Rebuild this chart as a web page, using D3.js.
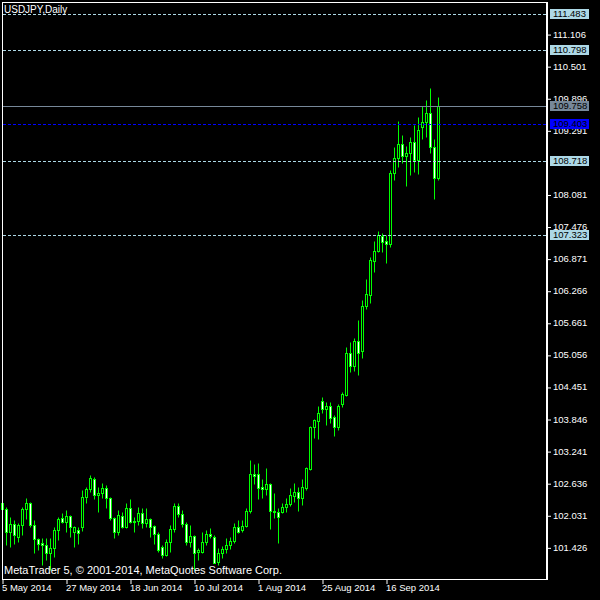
<!DOCTYPE html>
<html><head><meta charset="utf-8">
<script src="https://cdn.jsdelivr.net/npm/d3@7"></script>
<style>html,body{margin:0;padding:0;background:#000;} svg{display:block}</style>
</head><body>
<svg id="c" width="600" height="600"></svg>
<script>
const symbolTitle = "USDJPY,Daily";
const copyright = "MetaTrader 5, \u00A9 2001-2014, MetaQuotes Software Corp.";
const firstDay = "2014-05-05";
const lastDay = "2014-10-03";

const openP = [102.15,102.148,101.721,101.866,101.627,101.847,102.142,102.255,101.847,101.576,
101.513,101.469,101.312,101.407,101.752,101.972,101.910,102.016,101.715,101.752,
101.803,102.381,102.519,102.708,102.406,102.456,102.539,102.350,101.972,101.721,
102.016,101.803,102.161,101.910,101.928,102.067,101.891,101.954,101.828,101.677,
101.425,101.281,101.532,101.765,102.205,102.054,101.866,101.532,101.639,101.340,
101.344,101.532,101.677,101.627,101.155,101.325,101.388,101.463,101.551,101.803,
101.753,101.828,102.117,102.809,102.809,102.557,102.532,102.614,102.111,102.092,
102.086,102.180,102.237,102.400,102.463,102.350,102.539,102.897,103.689,103.815,
104.186,104.029,104.092,103.878,103.702,104.129,104.299,105.085,104.852,105.318,
105.135,105.978,106.192,106.833,107.021,107.298,107.197,107.141,108.480,108.763,
109.027,108.807,108.857,109.064,108.731,109.347,109.442,109.611,108.983,108.398];
const highP = [102.29,102.180,102.004,101.941,101.878,102.180,102.350,102.287,101.941,101.595,
101.595,101.595,101.595,101.815,102.004,102.067,102.130,102.035,101.828,101.815,
102.507,102.570,102.790,102.746,102.570,102.633,102.601,102.381,102.004,102.130,
102.098,102.255,102.331,102.004,102.192,102.161,102.161,101.972,101.847,101.721,
101.469,101.576,101.847,102.255,102.255,102.130,101.910,101.847,101.658,101.407,
101.721,101.752,101.784,101.658,101.407,101.451,101.595,101.627,101.878,101.941,
101.941,102.161,103.073,102.997,103.022,102.708,102.916,102.645,102.444,102.161,
102.256,102.350,102.539,102.633,102.570,102.709,102.947,103.714,103.840,104.100,
104.268,104.173,104.173,103.922,104.129,104.362,105.211,105.305,105.380,105.714,
106.091,106.487,106.896,107.210,107.390,107.361,107.317,108.543,108.983,109.467,
109.203,108.995,109.171,109.391,109.536,109.756,109.863,110.083,109.121,109.913];
const lowP = [102.13,101.469,101.425,101.488,101.532,101.658,101.954,101.815,101.312,101.375,
101.092,101.187,100.998,101.250,101.564,101.878,101.721,101.627,101.425,101.488,
101.740,102.255,102.475,102.331,102.098,102.350,102.161,101.941,101.595,101.658,
101.784,101.784,101.878,101.721,101.847,101.784,101.815,101.627,101.488,101.344,
101.218,101.262,101.344,101.721,102.004,101.815,101.469,101.438,100.998,101.187,
101.312,101.469,101.595,101.124,101.092,101.218,101.312,101.388,101.501,101.690,
101.721,101.803,102.079,102.620,102.331,102.350,102.413,101.765,101.973,101.501,
102.067,102.099,102.206,102.287,102.118,102.224,102.507,102.885,103.482,103.463,
103.953,103.733,103.765,103.526,103.639,104.067,104.280,104.739,104.758,104.676,
104.991,105.915,106.041,106.625,106.990,107.002,106.795,107.097,108.354,108.593,
108.668,108.241,108.448,108.511,108.467,109.127,109.171,108.869,107.996,108.354];
const closeP = [102.26,101.721,101.866,101.658,101.847,102.142,102.255,101.847,101.576,101.488,
101.469,101.312,101.407,101.752,101.954,101.910,102.016,101.803,101.803,101.702,
102.381,102.519,102.727,102.412,102.456,102.539,102.350,101.972,101.721,102.035,
101.803,102.161,101.910,101.928,102.067,101.891,101.954,101.815,101.677,101.375,
101.281,101.532,101.765,102.205,102.054,101.866,101.532,101.639,101.312,101.370,
101.532,101.677,101.640,101.136,101.325,101.400,101.470,101.551,101.803,101.715,
101.828,102.117,102.809,102.771,102.538,102.532,102.614,102.111,102.092,102.004,
102.193,102.243,102.413,102.463,102.350,102.570,102.916,103.689,103.828,103.953,
104.029,104.092,103.859,103.702,104.092,104.318,105.085,104.852,105.318,105.085,
105.978,106.204,106.845,107.015,107.317,107.191,107.141,108.480,108.763,109.027,
108.807,108.857,109.064,108.731,109.297,109.442,109.611,108.983,108.398,109.758];

const priceTicks = [101.426,102.031,102.636,103.241,103.846,104.451,105.056,105.661,106.266,
106.871,107.476,108.081,109.291,109.896,110.501,111.106];
const dateTicks = ["2014-05-05","2014-05-27","2014-06-18","2014-07-10","2014-08-01","2014-08-25","2014-09-16"];
const dateTickLabels = ["5 May 2014","27 May 2014","18 Jun 2014","10 Jul 2014","1 Aug 2014","25 Aug 2014","16 Sep 2014"];

const levelLines = [111.483,110.798,108.718,107.323];
const bidLevel = 109.758;
const askLevel = 109.403;

const yDomain = [100.829, 111.711];

const fmt = d3.utcFormat("%Y-%m-%d");
const parse = d3.utcParse("%Y-%m-%d");
const days = d3.utcDays(parse(firstDay), d3.utcDay.offset(parse(lastDay), 1))
  .filter(d => d.getUTCDay() !== 0 && d.getUTCDay() !== 6).map(fmt);

const bars = days.map((d, i) => ({d, o: openP[i], h: highP[i], l: lowP[i], c: closeP[i]}));

const svg = d3.select("#c");
const FONT = "'Liberation Sans', Arial, sans-serif";
svg.append("rect").attr("width", 600).attr("height", 600).attr("fill", "#000");

const x = d3.scalePoint().domain(days).range([2.5, 438.5]);
const y = d3.scaleLinear().domain(yDomain).range([579, 2]);
const py = v => Math.round(y(v)) + 0.5;

const plot = svg.append("g");
// candles
const g = plot.selectAll("g.candle").data(bars).join("g");
g.append("line")
  .attr("x1", b => x(b.d)).attr("x2", b => x(b.d))
  .attr("y1", b => py(b.h)).attr("y2", b => py(b.l))
  .attr("stroke", "#00ff00").attr("stroke-width", 1);
g.each(function(b) {
  const sel = d3.select(this);
  const top = py(Math.max(b.o, b.c)), bot = py(Math.min(b.o, b.c));
  if (bot - top < 1) {
    sel.append("line").attr("x1", x(b.d) - 1.5).attr("x2", x(b.d) + 1.5)
      .attr("y1", top).attr("y2", top).attr("stroke", "#00ff00");
  } else {
    sel.append("rect").attr("x", x(b.d) - 1).attr("width", 2)
      .attr("y", top).attr("height", bot - top)
      .attr("fill", b.c >= b.o ? "#000" : "#fff")
      .attr("stroke", "#00ff00").attr("stroke-width", 1);
  }
});

// level lines
plot.selectAll("line.lvl").data(levelLines).join("line")
  .attr("x1", 3).attr("x2", 546).attr("y1", d => py(d)).attr("y2", d => py(d))
  .attr("stroke", "#add8e6").attr("stroke-dasharray", "3,2");
plot.append("line").attr("x1", 3).attr("x2", 546).attr("y1", py(askLevel)).attr("y2", py(askLevel))
  .attr("stroke", "#0000ff").attr("stroke-dasharray", "3,2");
plot.append("line").attr("x1", 3).attr("x2", 546).attr("y1", py(bidLevel)).attr("y2", py(bidLevel))
  .attr("stroke", "#778899");

// frame
svg.append("line").attr("x1", 2.5).attr("x2", 2.5).attr("y1", 2).attr("y2", 580).attr("stroke", "#fff");
svg.append("line").attr("x1", 2).attr("x2", 548).attr("y1", 2.5).attr("y2", 2.5).attr("stroke", "#fff");
svg.append("line").attr("x1", 2).attr("x2", 548).attr("y1", 579.5).attr("y2", 579.5).attr("stroke", "#fff");
svg.append("line").attr("x1", 547).attr("x2", 547).attr("y1", 2).attr("y2", 580).attr("stroke", "#fff").attr("stroke-width", 2);

// right axis
const ya = svg.append("g").attr("transform", "translate(548,0)")
  .call(d3.axisRight(y).tickValues(priceTicks).tickSize(3).tickPadding(2).tickFormat(d3.format(".3f")));
ya.select(".domain").remove();
ya.selectAll(".tick line").attr("stroke", "#fff").attr("transform", "translate(0,0.5)");
ya.selectAll(".tick text").attr("fill", "#fff").attr("font-family", FONT).attr("font-size", 9.5);

// bottom axis
const xa = svg.append("g").attr("transform", "translate(0,580)")
  .call(d3.axisBottom(x).tickValues(dateTicks).tickSize(4).tickPadding(2)
    .tickFormat((d, i) => dateTickLabels[i]));
xa.select(".domain").remove();
xa.selectAll(".tick line").attr("stroke", "#fff");
xa.selectAll(".tick text").attr("fill", "#fff").attr("font-family", FONT).attr("font-size", 9.5)
  .attr("text-anchor", "start").attr("dx", -1).attr("dy", "0.55em");

// price boxes
function box(v, bg, fg) {
  const cy = Math.round(y(v));
  svg.append("rect").attr("x", 550).attr("y", cy - 5).attr("width", 39).attr("height", 10).attr("fill", bg);
  svg.append("text").attr("x", 553).attr("y", cy).attr("dy", "0.35em").attr("fill", fg)
    .attr("font-family", FONT).attr("font-size", 9.5).text(d3.format(".3f")(v));
}
levelLines.forEach(v => box(v, "#add8e6", "#000"));
box(bidLevel, "#778899", "#000");
box(askLevel, "#0000ff", "#000");

// texts
svg.append("text").attr("x", 4).attr("y", 13).attr("fill", "#fff").attr("font-family", FONT)
  .attr("font-size", 10).text(symbolTitle);
svg.append("text").attr("x", 4).attr("y", 574).attr("fill", "#fff").attr("font-family", FONT)
  .attr("font-size", 11).text(copyright);
</script>
</body></html>
